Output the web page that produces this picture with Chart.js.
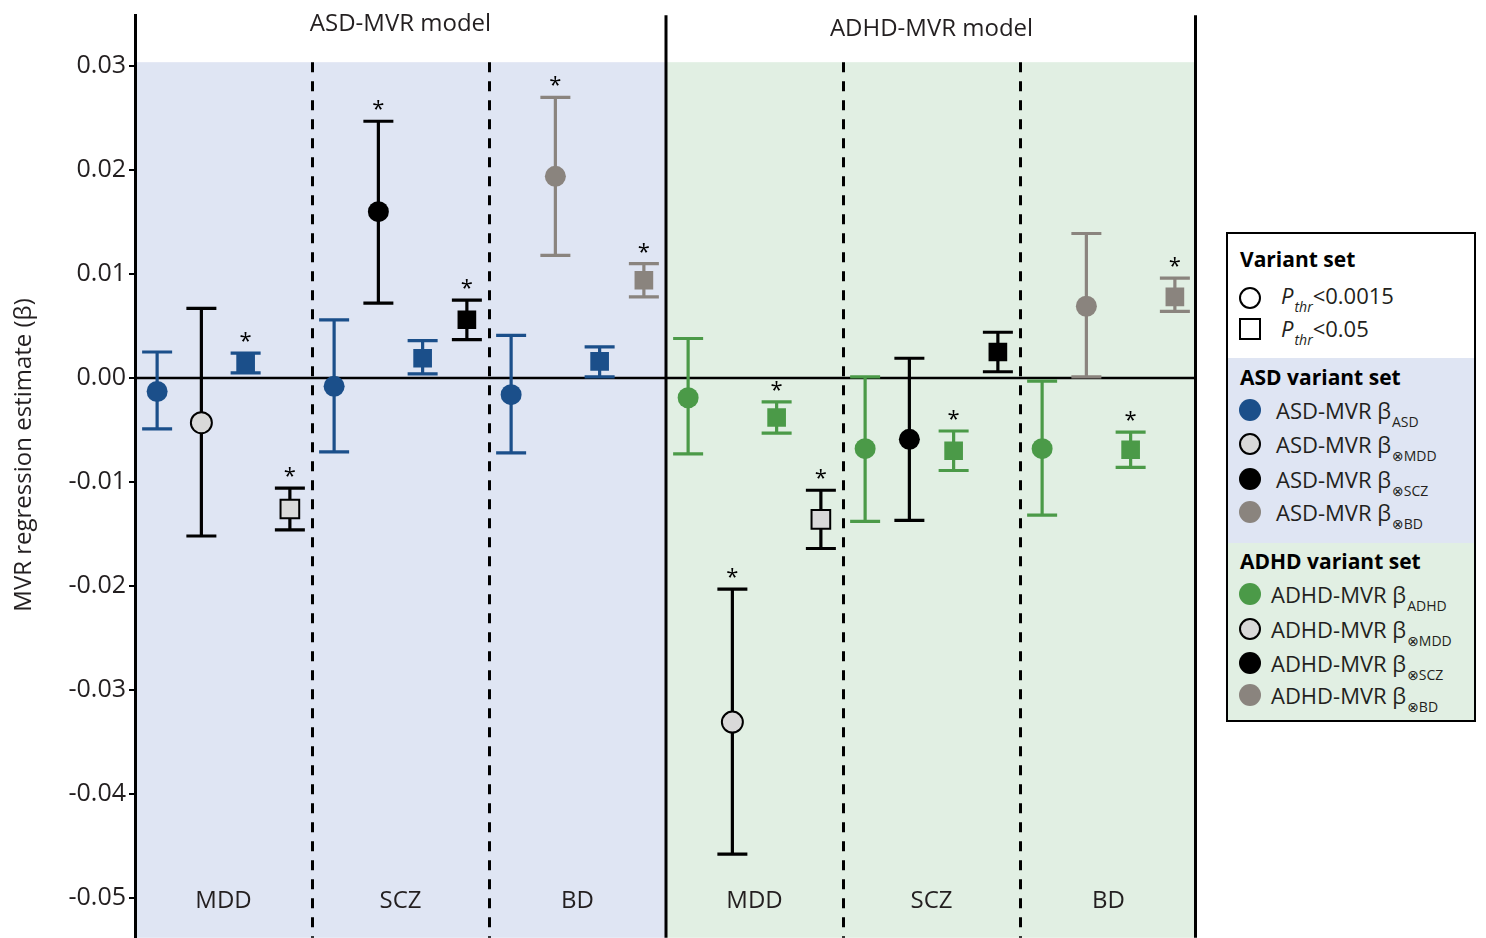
<!DOCTYPE html>
<html>
<head>
<meta charset="utf-8">
<title>MVR regression estimates</title>
<script src="https://cdn.jsdelivr.net/npm/chart.js@4/dist/chart.umd.min.js"></script>
<style>
  html, body { margin: 0; padding: 0; background: #fff; }
  #wrap { position: relative; width: 1486px; height: 938px; overflow: hidden; }
  #c { position: absolute; left: 0; top: 0; }
  #legend {
    position: absolute; left: 1226px; top: 232px; width: 250px; height: 490px;
    box-sizing: border-box; border: 2px solid #000; background: #fff;
    font-family: "Open Sans", "DejaVu Sans", sans-serif; color: #231f20;
  }
  #legend .band { position: absolute; left: 0; right: 0; }
  #legend .hd { position: absolute; left: 12px; font-weight: 700; font-size: 21px; line-height: 28px; color: #000; white-space: nowrap; }
  #legend .row { position: absolute; font-size: 22px; line-height: 30px; white-space: nowrap; }
  #legend .row sub { font-size: 14px; position: relative; top: 8px; vertical-align: baseline; line-height: 0; margin-left: 1px; }
  #legend .mk { position: absolute; left: 11px; width: 22px; height: 22px; box-sizing: border-box; }
  #legend .circ { border-radius: 50%; }
</style>
</head>
<body>
<div id="wrap">
  <canvas id="c" width="1486" height="938"></canvas>
  <div id="legend">
    <div class="band" style="top:124px;height:185px;background:#dfe5f3"></div>
    <div class="band" style="top:309px;height:177px;background:#e1efe3"></div>

    <div class="hd" style="top:11px">Variant set</div>
    <div class="mk circ" style="top:53px;border:2px solid #000"></div>
    <div class="row" style="top:46px;left:53px"><i>P</i><sub><i>thr</i></sub>&lt;0.0015</div>
    <div class="mk" style="top:84px;border:2px solid #000"></div>
    <div class="row" style="top:79px;left:53px"><i>P</i><sub><i>thr</i></sub>&lt;0.05</div>

    <div class="hd" style="top:129px">ASD variant set</div>
    <div class="mk circ" style="top:165px;background:#1b4f8a"></div>
    <div class="row" style="top:161px;left:48px">ASD-MVR β<sub>ASD</sub></div>
    <div class="mk circ" style="top:199px;background:#d9d9d9;border:2px solid #000"></div>
    <div class="row" style="top:195px;left:48px">ASD-MVR β<sub>⊗MDD</sub></div>
    <div class="mk circ" style="top:234px;background:#000"></div>
    <div class="row" style="top:230px;left:48px">ASD-MVR β<sub>⊗SCZ</sub></div>
    <div class="mk circ" style="top:267px;background:#8a847e"></div>
    <div class="row" style="top:263px;left:48px">ASD-MVR β<sub>⊗BD</sub></div>

    <div class="hd" style="top:313px">ADHD variant set</div>
    <div class="mk circ" style="top:349px;background:#4b9a48"></div>
    <div class="row" style="top:345px;left:43px">ADHD-MVR β<sub>ADHD</sub></div>
    <div class="mk circ" style="top:384px;background:#d9d9d9;border:2px solid #000"></div>
    <div class="row" style="top:380px;left:43px">ADHD-MVR β<sub>⊗MDD</sub></div>
    <div class="mk circ" style="top:418px;background:#000"></div>
    <div class="row" style="top:414px;left:43px">ADHD-MVR β<sub>⊗SCZ</sub></div>
    <div class="mk circ" style="top:450px;background:#8a847e"></div>
    <div class="row" style="top:446px;left:43px">ADHD-MVR β<sub>⊗BD</sub></div>
  </div>
</div>
<script>
// Panels and disorder groups
const models = ['ASD-MVR model', 'ADHD-MVR model'];
const disorders = ['MDD', 'SCZ', 'BD'];
const yTicks = [0.03, 0.02, 0.01, 0.00, -0.01, -0.02, -0.03, -0.04, -0.05];

// ASD-MVR model: main effect (ASD variant set), per disorder MDD / SCZ / BD
const asdMainCircleEst = [-0.0013, -0.0008, -0.0016];
const asdMainCircleLo  = [-0.0049, -0.0071, -0.0072];
const asdMainCircleHi  = [ 0.0025,  0.0056,  0.0041];
const asdMainCircleSig = [0, 0, 0];

const asdMainSquareEst = [0.0014, 0.0019, 0.0016];
const asdMainSquareLo  = [0.0005, 0.0004, 0.0001];
const asdMainSquareHi  = [0.0024, 0.0036, 0.0030];
const asdMainSquareSig = [1, 0, 0];

// ASD-MVR model: interaction with the other disorder
const asdInterCircleEst = [-0.0043, 0.0160, 0.0194];
const asdInterCircleLo  = [-0.0152, 0.0072, 0.0118];
const asdInterCircleHi  = [ 0.0067, 0.0247, 0.0270];
const asdInterCircleSig = [0, 1, 1];

const asdInterSquareEst = [-0.0126, 0.0056, 0.0094];
const asdInterSquareLo  = [-0.0146, 0.0037, 0.0078];
const asdInterSquareHi  = [-0.0106, 0.0075, 0.0110];
const asdInterSquareSig = [1, 1, 1];

// ADHD-MVR model: main effect (ADHD variant set)
const adhdMainCircleEst = [-0.0019, -0.0068, -0.0068];
const adhdMainCircleLo  = [-0.0073, -0.0138, -0.0132];
const adhdMainCircleHi  = [ 0.0038,  0.0001, -0.0003];
const adhdMainCircleSig = [0, 0, 0];

const adhdMainSquareEst = [-0.0038, -0.0070, -0.0069];
const adhdMainSquareLo  = [-0.0053, -0.0089, -0.0086];
const adhdMainSquareHi  = [-0.0023, -0.0051, -0.0052];
const adhdMainSquareSig = [1, 1, 1];

// ADHD-MVR model: interaction with the other disorder
const adhdInterCircleEst = [-0.0331, -0.0059, 0.0069];
const adhdInterCircleLo  = [-0.0458, -0.0137, 0.0001];
const adhdInterCircleHi  = [-0.0203,  0.0019, 0.0139];
const adhdInterCircleSig = [1, 0, 0];

const adhdInterSquareEst = [-0.0136, 0.0025, 0.0078];
const adhdInterSquareLo  = [-0.0164, 0.0006, 0.0064];
const adhdInterSquareHi  = [-0.0108, 0.0044, 0.0096];
const adhdInterSquareSig = [1, 0, 1];

// Colours
const asdBlue = '#1b4f8a';
const adhdGreen = '#4b9a48';
const interFill = ['#d9d9d9', '#000000', '#8a847e'];   // ⊗MDD, ⊗SCZ, ⊗BD
const interLine = ['#000000', '#000000', '#8a847e'];
const interBorder = [2, 0, 0];
const modelShade = ['#dfe5f3', '#e1efe3'];
const ink = '#231f20';
const FONT = '"Open Sans", "DejaVu Sans", sans-serif';

// Axis extents (value units)
const yMin = -0.05385, yMax = 0.03490, shadeTop = 0.03038;
const PAGE_W = 1486, PAGE_H = 938;

// Each disorder group holds four slots: main ○, interaction ○, main □, interaction □
function series(model, slot, est, lo, hi, sig, style, fill, line, bw) {
  const n = est.length;
  const arr = v => Array.isArray(v) ? v : Array(n).fill(v);
  return {
    data: est.map((v, i) => ({ x: (model * 3 + i) * 4 + slot + 0.5, y: v })),
    showLine: false,
    pointStyle: style,
    pointRadius: style === 'circle' ? 10.5 : 13.2,
    pointHoverRadius: style === 'circle' ? 10.5 : 13.2,
    pointBackgroundColor: arr(fill),
    pointBorderColor: arr(line).map((c, i) => arr(bw)[i] ? '#000' : c),
    pointBorderWidth: arr(bw),
    errLo: lo, errHi: hi, errColor: arr(line), sig: sig
  };
}

const datasets = [
  series(0, 0, asdMainCircleEst, asdMainCircleLo, asdMainCircleHi, asdMainCircleSig, 'circle', asdBlue, asdBlue, 0),
  series(0, 1, asdInterCircleEst, asdInterCircleLo, asdInterCircleHi, asdInterCircleSig, 'circle', interFill, interLine, interBorder),
  series(0, 2, asdMainSquareEst, asdMainSquareLo, asdMainSquareHi, asdMainSquareSig, 'rect', asdBlue, asdBlue, 0),
  series(0, 3, asdInterSquareEst, asdInterSquareLo, asdInterSquareHi, asdInterSquareSig, 'rect', interFill, interLine, interBorder),
  series(1, 0, adhdMainCircleEst, adhdMainCircleLo, adhdMainCircleHi, adhdMainCircleSig, 'circle', adhdGreen, adhdGreen, 0),
  series(1, 1, adhdInterCircleEst, adhdInterCircleLo, adhdInterCircleHi, adhdInterCircleSig, 'circle', interFill, interLine, interBorder),
  series(1, 2, adhdMainSquareEst, adhdMainSquareLo, adhdMainSquareHi, adhdMainSquareSig, 'rect', adhdGreen, adhdGreen, 0),
  series(1, 3, adhdInterSquareEst, adhdInterSquareLo, adhdInterSquareHi, adhdInterSquareSig, 'rect', interFill, interLine, interBorder)
];

const frame = {
  id: 'frame',
  beforeDraw(chart) {
    const { ctx, chartArea: a, scales: { x, y } } = chart;
    const top = y.getPixelForValue(shadeTop);
    ctx.save();
    models.forEach((m, k) => {
      const x0 = x.getPixelForValue(k * 12), x1 = x.getPixelForValue(k * 12 + 12);
      ctx.fillStyle = modelShade[k];
      ctx.fillRect(x0, top, x1 - x0, a.bottom - top);
    });
    ctx.restore();
  },
  beforeDatasetsDraw(chart) {
    const { ctx, chartArea: a, scales: { x, y } } = chart;
    const top = y.getPixelForValue(shadeTop);
    ctx.save();
    // dashed lines between disorders
    ctx.strokeStyle = '#000';
    ctx.lineWidth = 3;
    ctx.setLineDash([10, 9]);
    [4, 8, 16, 20].forEach(v => {
      const px = Math.round(x.getPixelForValue(v)) + 0.5;
      ctx.beginPath(); ctx.moveTo(px, top); ctx.lineTo(px, a.bottom); ctx.stroke();
    });
    ctx.setLineDash([]);
    // solid lines between and after the model panels
    [12, 24].forEach(v => {
      const px = Math.round(x.getPixelForValue(v)) - (v === 24 ? 1.5 : 0);
      ctx.beginPath(); ctx.moveTo(px, a.top); ctx.lineTo(px, a.bottom); ctx.stroke();
    });
    // zero reference line
    const y0 = y.getPixelForValue(0);
    ctx.lineWidth = 2.5;
    ctx.beginPath(); ctx.moveTo(a.left, y0); ctx.lineTo(a.right, y0); ctx.stroke();
    // confidence intervals
    ctx.lineWidth = 3.2;
    ctx.lineCap = 'butt';
    chart.data.datasets.forEach(ds => {
      ds.data.forEach((p, i) => {
        const px = x.getPixelForValue(p.x);
        const yh = y.getPixelForValue(ds.errHi[i]);
        const yl = y.getPixelForValue(ds.errLo[i]);
        ctx.strokeStyle = ds.errColor[i];
        ctx.beginPath();
        ctx.moveTo(px, yh); ctx.lineTo(px, yl);
        ctx.moveTo(px - 15, yh); ctx.lineTo(px + 15, yh);
        ctx.moveTo(px - 15, yl); ctx.lineTo(px + 15, yl);
        ctx.stroke();
      });
    });
    ctx.restore();
  },
  afterDatasetsDraw(chart) {
    const { ctx, scales: { x, y } } = chart;
    ctx.save();
    ctx.fillStyle = '#000';
    ctx.textAlign = 'center';
    ctx.textBaseline = 'alphabetic';
    // significance asterisks above the upper whisker
    ctx.font = '22px ' + FONT;
    chart.data.datasets.forEach(ds => {
      ds.data.forEach((p, i) => {
        if (!ds.sig[i]) return;
        ctx.fillText('*', x.getPixelForValue(p.x), y.getPixelForValue(ds.errHi[i]) - 5);
      });
    });
    // disorder labels
    ctx.fillStyle = ink;
    ctx.font = '24px ' + FONT;
    models.forEach((m, k) => {
      disorders.forEach((d, i) => {
        ctx.fillText(d, x.getPixelForValue((k * 3 + i) * 4 + 2), 908);
      });
    });
    // panel headers
    ctx.fillText(models[0], x.getPixelForValue(6), 31);
    ctx.fillText(models[1], x.getPixelForValue(18), 36);
    // y-axis title
    ctx.translate(24, 455);
    ctx.rotate(-Math.PI / 2);
    ctx.textBaseline = 'middle';
    ctx.fillText('MVR regression estimate (β)', 0, 0);
    ctx.restore();
  }
};

const chart = new Chart(document.getElementById('c'), {
  type: 'scatter',
  data: { datasets },
  options: {
    responsive: false,
    maintainAspectRatio: false,
    animation: false,
    devicePixelRatio: 1,
    layout: { padding: { top: 15, right: 289, bottom: 0, left: 0 } },
    plugins: { legend: { display: false }, tooltip: { enabled: false } },
    events: [],
    scales: {
      x: { type: 'linear', min: 0, max: 24, display: false },
      y: {
        type: 'linear', min: yMin, max: yMax,
        afterBuildTicks: s => { s.ticks = yTicks.map(v => ({ value: v })); },
        afterFit: s => { s.width = 135; s.paddingTop = 0; s.paddingBottom = 0; },
        grid: { display: true, drawOnChartArea: false, drawTicks: true, tickLength: 6, color: '#000', lineWidth: 2 },
        border: { display: true, color: '#000', width: 3 },
        ticks: {
          padding: 3, color: ink,
          font: { family: FONT, size: 25, lineHeight: 0.1 },
          callback: v => (Math.abs(v) < 1e-9 ? 0 : v).toFixed(2)
        },
        title: { display: false }
      }
    }
  },
  plugins: [frame]
});

// Let the plot area run to the bottom edge of the page; the canvas is clipped by #wrap.
for (let k = 0; k < 3; k++) {
  const gap = PAGE_H - chart.chartArea.bottom;
  if (Math.abs(gap) < 0.5) break;
  chart.resize(PAGE_W, Math.round(chart.height + gap));
}
</script>
</body>
</html>
